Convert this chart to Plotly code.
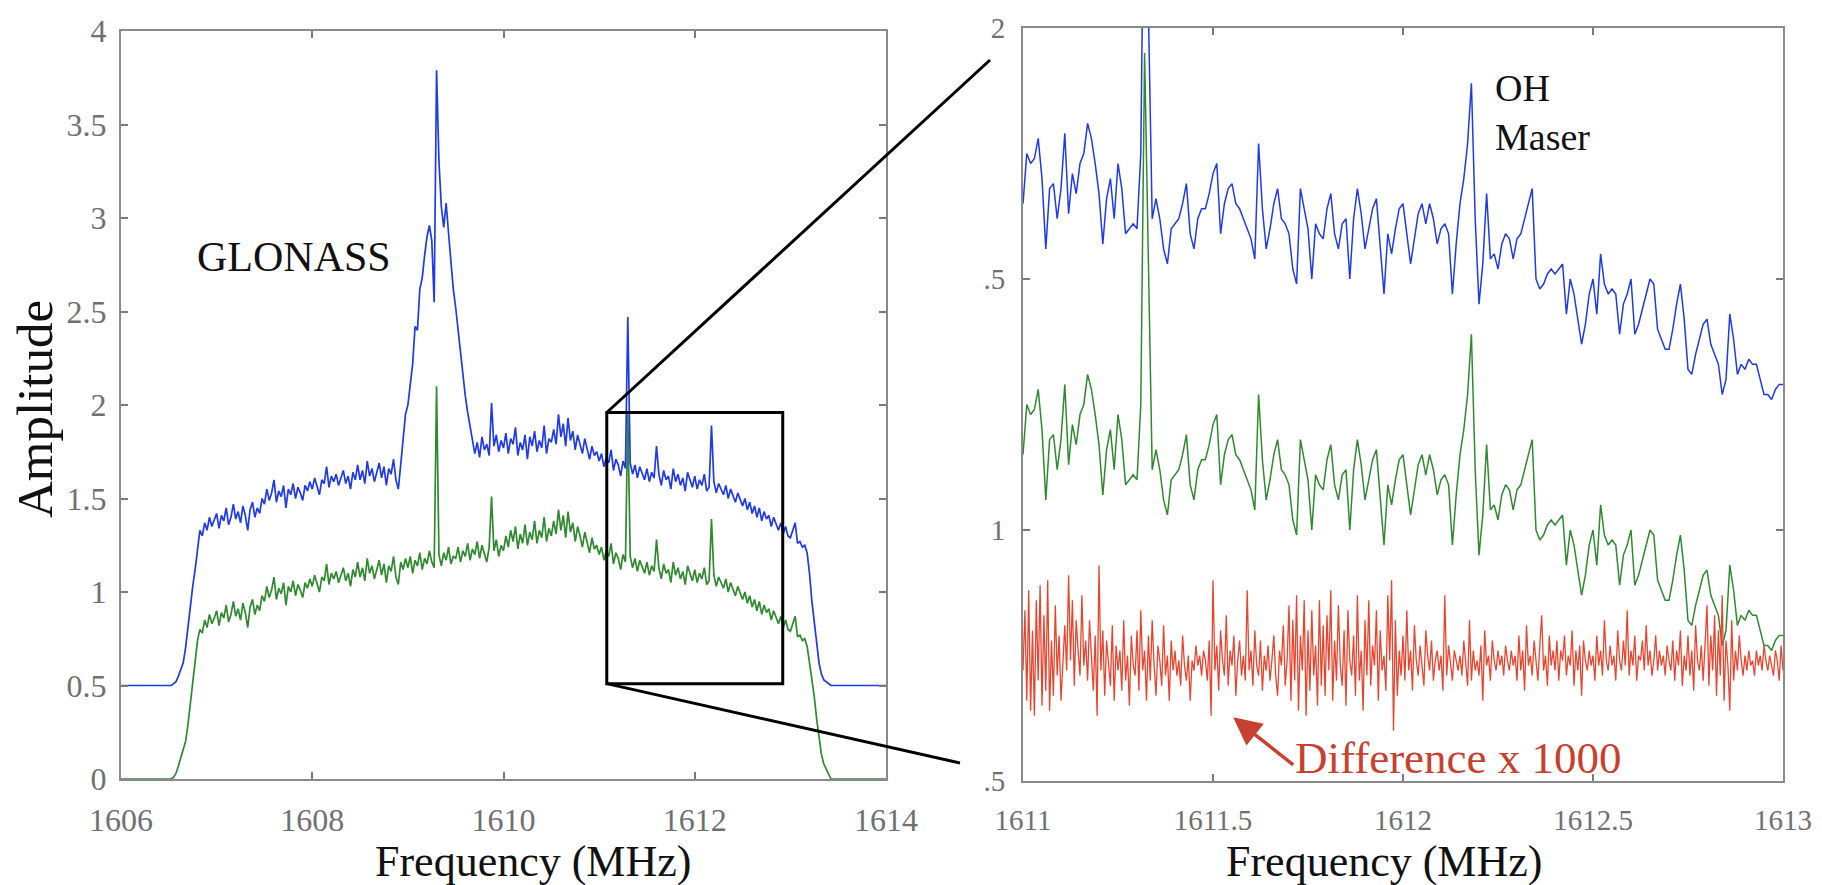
import plotly.graph_objects as go

# wide band spectrum, 1606-1614 MHz, 25 kHz channels
wide_start = 1606.0
wide_step = 0.025
wide_blue = [
    0.50, 0.50, 0.50, 0.50, 0.50, 0.50, 0.50, 0.50, 0.50, 0.50, 0.50, 0.50, 0.50, 0.50, 0.50, 0.50, 0.50, 0.50, 0.50, 0.50,
    0.50, 0.50, 0.51, 0.52, 0.55, 0.58, 0.62, 0.70, 0.82, 0.92, 1.03, 1.12, 1.24, 1.33, 1.30, 1.37, 1.33, 1.40, 1.35, 1.38,
    1.42, 1.34, 1.41, 1.38, 1.45, 1.36, 1.40, 1.47, 1.39, 1.43, 1.37, 1.46, 1.41, 1.33, 1.44, 1.48, 1.40, 1.45, 1.42, 1.50,
    1.47, 1.55, 1.49, 1.53, 1.60, 1.48, 1.54, 1.51, 1.57, 1.45, 1.55, 1.52, 1.58, 1.50, 1.56, 1.53, 1.49, 1.57, 1.54, 1.59,
    1.55, 1.61, 1.57, 1.52, 1.60, 1.58, 1.67, 1.56, 1.62, 1.59, 1.63, 1.57, 1.61, 1.65, 1.58, 1.62, 1.55, 1.64, 1.60, 1.68,
    1.60, 1.65, 1.58, 1.70, 1.62, 1.66, 1.59, 1.64, 1.69, 1.61, 1.67, 1.57, 1.66, 1.63, 1.71, 1.60, 1.55, 1.68, 1.80, 1.95,
    2.00, 2.12, 2.22, 2.42, 2.40, 2.62, 2.68, 2.80, 2.90, 2.96, 2.88, 2.55, 3.79, 3.30, 3.06, 2.95, 3.08, 2.92, 2.75, 2.62,
    2.52, 2.40, 2.26, 2.15, 2.05, 1.96, 1.88, 1.82, 1.74, 1.80, 1.72, 1.83, 1.76, 1.79, 1.73, 2.01, 1.78, 1.84, 1.75, 1.81,
    1.77, 1.85, 1.74, 1.82, 1.79, 1.88, 1.73, 1.80, 1.76, 1.84, 1.71, 1.83, 1.78, 1.86, 1.75, 1.81, 1.77, 1.89, 1.74, 1.82,
    1.80, 1.87, 1.79, 1.95, 1.83, 1.90, 1.78, 1.93, 1.81, 1.86, 1.76, 1.84, 1.79, 1.74, 1.82, 1.76, 1.71, 1.78, 1.73, 1.75,
    1.70, 1.74, 1.67, 1.72, 1.69, 1.76, 1.65, 1.71, 1.68, 1.62, 1.70, 1.66, 2.47, 1.69, 1.63, 1.68, 1.61, 1.67, 1.64, 1.60,
    1.66, 1.59, 1.64, 1.61, 1.78, 1.63, 1.57, 1.65, 1.60, 1.62, 1.55, 1.66, 1.59, 1.63, 1.57, 1.61, 1.54, 1.64, 1.60, 1.56,
    1.62, 1.55, 1.60, 1.57, 1.63, 1.54, 1.56, 1.89, 1.59, 1.53, 1.58, 1.55, 1.52, 1.57, 1.50, 1.55, 1.51, 1.48, 1.53, 1.49,
    1.46, 1.50, 1.44, 1.48, 1.42, 1.46, 1.40, 1.45, 1.38, 1.43, 1.39, 1.41, 1.35, 1.40, 1.36, 1.33, 1.37, 1.31, 1.35, 1.30,
    1.29, 1.33, 1.37, 1.26, 1.27, 1.24, 1.25, 1.21, 1.10, 0.95, 0.83, 0.71, 0.62, 0.56, 0.53, 0.52, 0.51, 0.50, 0.50, 0.50,
    0.50, 0.50, 0.50, 0.50, 0.50, 0.50, 0.50, 0.50, 0.50, 0.50, 0.50, 0.50, 0.50, 0.50, 0.50, 0.50, 0.50, 0.50, 0.50, 0.50,
    0.50,
]
wide_green = [
    0.00, 0.00, 0.00, 0.00, 0.00, 0.00, 0.00, 0.00, 0.00, 0.00, 0.00, 0.00, 0.00, 0.00, 0.00, 0.00, 0.00, 0.00, 0.00, 0.00,
    0.00, 0.00, 0.01, 0.03, 0.07, 0.11, 0.15, 0.20, 0.29, 0.40, 0.53, 0.65, 0.74, 0.80, 0.78, 0.85, 0.81, 0.88, 0.83, 0.86,
    0.90, 0.82, 0.89, 0.86, 0.93, 0.84, 0.88, 0.95, 0.87, 0.91, 0.85, 0.94, 0.89, 0.81, 0.92, 0.96, 0.88, 0.93, 0.90, 0.98,
    0.95, 1.03, 0.97, 1.01, 1.08, 0.96, 1.02, 0.99, 1.05, 0.93, 1.03, 1.00, 1.06, 0.98, 1.04, 1.01, 0.97, 1.05, 1.02, 1.07,
    1.03, 1.09, 1.05, 1.00, 1.08, 1.06, 1.15, 1.04, 1.10, 1.07, 1.11, 1.05, 1.09, 1.13, 1.06, 1.10, 1.03, 1.12, 1.08, 1.16,
    1.08, 1.13, 1.06, 1.18, 1.10, 1.14, 1.07, 1.12, 1.17, 1.09, 1.15, 1.05, 1.14, 1.11, 1.19, 1.08, 1.04, 1.16, 1.12, 1.18,
    1.13, 1.19, 1.10, 1.17, 1.14, 1.21, 1.12, 1.18, 1.15, 1.22, 1.16, 1.13, 2.10, 1.20, 1.14, 1.21, 1.17, 1.24, 1.15, 1.19,
    1.18, 1.24, 1.16, 1.22, 1.19, 1.26, 1.17, 1.23, 1.20, 1.27, 1.18, 1.25, 1.21, 1.16, 1.24, 1.51, 1.22, 1.28, 1.19, 1.25,
    1.22, 1.30, 1.24, 1.33, 1.27, 1.35, 1.23, 1.31, 1.26, 1.36, 1.25, 1.32, 1.28, 1.38, 1.26, 1.33, 1.29, 1.40, 1.27, 1.34,
    1.30, 1.38, 1.31, 1.44, 1.33, 1.41, 1.29, 1.43, 1.32, 1.37, 1.27, 1.35, 1.30, 1.24, 1.32, 1.26, 1.21, 1.29, 1.23, 1.25,
    1.20, 1.24, 1.17, 1.22, 1.19, 1.26, 1.15, 1.21, 1.18, 1.12, 1.20, 1.16, 1.95, 1.19, 1.13, 1.18, 1.11, 1.17, 1.14, 1.10,
    1.16, 1.09, 1.14, 1.11, 1.28, 1.13, 1.07, 1.15, 1.10, 1.12, 1.05, 1.16, 1.09, 1.13, 1.07, 1.11, 1.04, 1.14, 1.10, 1.06,
    1.12, 1.05, 1.10, 1.07, 1.13, 1.04, 1.06, 1.39, 1.09, 1.03, 1.08, 1.05, 1.02, 1.07, 1.00, 1.05, 1.01, 0.98, 1.03, 0.99,
    0.96, 1.00, 0.94, 0.98, 0.92, 0.96, 0.90, 0.95, 0.88, 0.93, 0.89, 0.91, 0.85, 0.90, 0.86, 0.83, 0.87, 0.81, 0.85, 0.80,
    0.79, 0.83, 0.87, 0.76, 0.77, 0.74, 0.75, 0.71, 0.62, 0.52, 0.44, 0.32, 0.21, 0.13, 0.08, 0.05, 0.02, 0.00, 0.00, 0.00,
    0.00, 0.00, 0.00, 0.00, 0.00, 0.00, 0.00, 0.00, 0.00, 0.00, 0.00, 0.00, 0.00, 0.00, 0.00, 0.00, 0.00, 0.00, 0.00, 0.00,
    0.00,
]

# zoomed spectrum, 1611-1613 MHz, 10 kHz channels
zoom_start = 1611.0
zoom_step = 0.01
zoom_blue = [
    1.65, 1.75, 1.73, 1.74, 1.78, 1.70, 1.56, 1.68, 1.69, 1.62,
    1.68, 1.79, 1.63, 1.71, 1.67, 1.73, 1.75, 1.81, 1.78, 1.73,
    1.67, 1.57, 1.66, 1.70, 1.62, 1.73, 1.68, 1.59, 1.60, 1.61,
    1.60, 1.75, 2.45, 2.05, 1.62, 1.66, 1.62, 1.56, 1.53, 1.60,
    1.61, 1.62, 1.65, 1.69, 1.59, 1.56, 1.62, 1.64, 1.64, 1.67,
    1.71, 1.73, 1.59, 1.65, 1.68, 1.69, 1.65, 1.64, 1.62, 1.60,
    1.58, 1.54, 1.77, 1.64, 1.56, 1.60, 1.65, 1.68, 1.62, 1.61,
    1.59, 1.52, 1.49, 1.68, 1.64, 1.60, 1.50, 1.61, 1.59, 1.58,
    1.64, 1.67, 1.59, 1.56, 1.61, 1.62, 1.50, 1.62, 1.68, 1.63,
    1.56, 1.60, 1.64, 1.66, 1.56, 1.47, 1.59, 1.55, 1.60, 1.64,
    1.65, 1.59, 1.53, 1.58, 1.63, 1.65, 1.61, 1.65, 1.62, 1.57,
    1.60, 1.61, 1.59, 1.47, 1.57, 1.65, 1.70, 1.77, 1.89, 1.62,
    1.45, 1.53, 1.67, 1.54, 1.55, 1.52, 1.57, 1.59, 1.58, 1.54,
    1.58, 1.59, 1.62, 1.65, 1.68, 1.50, 1.48, 1.49, 1.51, 1.52,
    1.51, 1.52, 1.53, 1.43, 1.50, 1.47, 1.42, 1.37, 1.41, 1.47,
    1.50, 1.43, 1.55, 1.49, 1.47, 1.48, 1.47, 1.39, 1.45, 1.47,
    1.50, 1.39, 1.41, 1.44, 1.47, 1.50, 1.49, 1.40, 1.38, 1.36,
    1.36, 1.40, 1.45, 1.49, 1.42, 1.32, 1.31, 1.35, 1.38, 1.41,
    1.42, 1.37, 1.35, 1.33, 1.27, 1.30, 1.43, 1.38, 1.31, 1.33,
    1.32, 1.34, 1.33, 1.33, 1.30, 1.27, 1.27, 1.26, 1.28, 1.29,
    1.29,
]
zoom_green = [
    1.15, 1.25, 1.23, 1.24, 1.28, 1.20, 1.06, 1.18, 1.19, 1.12,
    1.18, 1.29, 1.13, 1.21, 1.17, 1.23, 1.25, 1.31, 1.28, 1.23,
    1.17, 1.07, 1.16, 1.20, 1.12, 1.23, 1.18, 1.09, 1.10, 1.11,
    1.10, 1.25, 1.95, 1.55, 1.12, 1.16, 1.12, 1.06, 1.03, 1.10,
    1.11, 1.12, 1.15, 1.19, 1.09, 1.06, 1.12, 1.14, 1.14, 1.17,
    1.21, 1.23, 1.09, 1.15, 1.18, 1.19, 1.15, 1.14, 1.12, 1.10,
    1.08, 1.04, 1.27, 1.14, 1.06, 1.10, 1.15, 1.18, 1.12, 1.11,
    1.09, 1.02, 0.99, 1.18, 1.14, 1.10, 1.00, 1.11, 1.09, 1.08,
    1.14, 1.17, 1.09, 1.06, 1.11, 1.12, 1.00, 1.12, 1.18, 1.13,
    1.06, 1.10, 1.14, 1.16, 1.06, 0.97, 1.09, 1.05, 1.10, 1.14,
    1.15, 1.09, 1.03, 1.08, 1.13, 1.15, 1.11, 1.15, 1.12, 1.07,
    1.10, 1.11, 1.09, 0.97, 1.07, 1.15, 1.20, 1.27, 1.39, 1.12,
    0.95, 1.03, 1.17, 1.04, 1.05, 1.02, 1.07, 1.09, 1.08, 1.04,
    1.08, 1.09, 1.12, 1.15, 1.18, 1.00, 0.98, 0.99, 1.01, 1.02,
    1.01, 1.02, 1.03, 0.93, 1.00, 0.97, 0.92, 0.87, 0.91, 0.97,
    1.00, 0.93, 1.05, 0.99, 0.97, 0.98, 0.97, 0.89, 0.95, 0.97,
    1.00, 0.89, 0.91, 0.94, 0.97, 1.00, 0.99, 0.90, 0.88, 0.86,
    0.86, 0.90, 0.95, 0.99, 0.92, 0.82, 0.81, 0.85, 0.88, 0.91,
    0.92, 0.87, 0.85, 0.83, 0.77, 0.80, 0.93, 0.88, 0.81, 0.83,
    0.82, 0.84, 0.83, 0.83, 0.80, 0.77, 0.77, 0.76, 0.78, 0.79,
    0.79,
]

# difference x 1000, 5 kHz channels
diff_step = 0.005
zoom_diff = [
    0.72, 0.84, 0.66, 0.88, 0.64, 0.80, 0.63, 0.86, 0.70, 0.89, 0.65, 0.83, 0.68, 0.90, 0.64, 0.78, 0.67, 0.85, 0.71, 0.79,
    0.66, 0.75, 0.81, 0.72, 0.91, 0.74, 0.86, 0.69, 0.82, 0.76, 0.71, 0.87, 0.73, 0.78, 0.70, 0.82, 0.75, 0.68, 0.79, 0.63,
    0.93, 0.72, 0.80, 0.67, 0.78, 0.74, 0.69, 0.81, 0.66, 0.77, 0.72, 0.76, 0.68, 0.82, 0.70, 0.75, 0.65, 0.79, 0.73, 0.71,
    0.80, 0.68, 0.84, 0.72, 0.76, 0.66, 0.79, 0.70, 0.82, 0.73, 0.67, 0.77, 0.74, 0.69, 0.81, 0.71, 0.75, 0.66, 0.78, 0.72,
    0.76, 0.71, 0.74, 0.69, 0.79, 0.73, 0.70, 0.75, 0.66, 0.74, 0.72, 0.77, 0.73, 0.75, 0.71, 0.76, 0.74, 0.70, 0.78, 0.63,
    0.90, 0.72, 0.77, 0.68, 0.80, 0.74, 0.71, 0.83, 0.69, 0.76, 0.73, 0.79, 0.67, 0.74, 0.78, 0.71, 0.75, 0.70, 0.88, 0.72,
    0.76, 0.69, 0.80, 0.73, 0.71, 0.78, 0.68, 0.75, 0.72, 0.77, 0.70, 0.74, 0.79, 0.71, 0.67, 0.76, 0.73, 0.81, 0.69, 0.74,
    0.85, 0.66, 0.82, 0.70, 0.87, 0.64, 0.79, 0.72, 0.86, 0.63, 0.80, 0.68, 0.84, 0.71, 0.77, 0.65, 0.86, 0.69, 0.81, 0.67,
    0.83, 0.72, 0.88, 0.66, 0.78, 0.70, 0.85, 0.73, 0.69, 0.80, 0.65, 0.84, 0.74, 0.71, 0.79, 0.67, 0.87, 0.70, 0.76, 0.64,
    0.82, 0.71, 0.86, 0.69, 0.77, 0.73, 0.84, 0.66, 0.80, 0.72, 0.75, 0.68, 0.87, 0.74, 0.90, 0.60, 0.82, 0.67, 0.76, 0.71,
    0.79, 0.70, 0.84, 0.72, 0.76, 0.68, 0.81, 0.74, 0.71, 0.77, 0.73, 0.69, 0.80, 0.75, 0.72, 0.78, 0.70, 0.74, 0.76, 0.72,
    0.75, 0.68, 0.87, 0.71, 0.77, 0.73, 0.70, 0.76, 0.74, 0.72, 0.75, 0.71, 0.78, 0.73, 0.69, 0.82, 0.70, 0.76, 0.72, 0.74,
    0.71, 0.77, 0.66, 0.80, 0.73, 0.75, 0.70, 0.78, 0.74, 0.72, 0.76, 0.73, 0.75, 0.71, 0.77, 0.74, 0.72, 0.76, 0.73, 0.75,
    0.70, 0.79, 0.72, 0.76, 0.68, 0.81, 0.73, 0.75, 0.71, 0.78, 0.74, 0.70, 0.77, 0.83, 0.72, 0.75, 0.69, 0.79, 0.73, 0.76,
    0.72, 0.78, 0.70, 0.76, 0.74, 0.79, 0.71, 0.75, 0.73, 0.80, 0.69, 0.76, 0.72, 0.77, 0.67, 0.78, 0.74, 0.72, 0.76, 0.73,
    0.75, 0.70, 0.79, 0.73, 0.76, 0.71, 0.82, 0.74, 0.72, 0.77, 0.73, 0.75, 0.70, 0.80, 0.74, 0.72, 0.78, 0.73, 0.84, 0.71,
    0.76, 0.73, 0.79, 0.70, 0.75, 0.74, 0.78, 0.72, 0.81, 0.73, 0.76, 0.71, 0.74, 0.79, 0.72, 0.76, 0.73, 0.75, 0.71, 0.77,
    0.74, 0.72, 0.78, 0.70, 0.76, 0.73, 0.80, 0.69, 0.75, 0.72, 0.79, 0.71, 0.76, 0.68, 0.81, 0.74, 0.72, 0.77, 0.70, 0.78,
    0.85, 0.69, 0.79, 0.72, 0.83, 0.67, 0.80, 0.71, 0.87, 0.66, 0.78, 0.73, 0.64, 0.82, 0.70, 0.76, 0.72, 0.79, 0.74, 0.71,
    0.75, 0.72, 0.76, 0.73, 0.74, 0.71, 0.76, 0.73, 0.75, 0.72, 0.77, 0.74, 0.72, 0.75, 0.73, 0.71, 0.76, 0.74, 0.70, 0.77,
    0.72,
]

wide_ticks = [1606, 1608, 1610, 1612, 1614]
amp_ticks = [0, 0.5, 1, 1.5, 2, 2.5, 3, 3.5, 4]
amp_labels = ["0", "0.5", "1", "1.5", "2", "2.5", "3", "3.5", "4"]
zoom_xticks = [1611, 1611.5, 1612, 1612.5, 1613]
zoom_xlabels = ["1611", "1611.5", "1612", "1612.5", "1613"]
zoom_yticks = [0.5, 1, 1.5, 2]
zoom_ylabels = [".5", "1", ".5", "2"]
# zoom box drawn on the wide plot
box_f = [1611.08, 1612.92]
box_a = [0.51, 1.96]

f_wide = [wide_start + wide_step * i for i in range(len(wide_blue))]
f_zoom = [zoom_start + zoom_step * i for i in range(len(zoom_blue))]
f_diff = [zoom_start + diff_step * i for i in range(len(zoom_diff))]

BLUE = "#1f3ae8"
GREEN = "#2f8a2f"
RED = "#e8452f"
SERIF = "Liberation Serif"
TICK_GREY = "#707070"
INK = "#111111"

# the page body keeps its default 8px margin, so size the figure to fit the window
W, H, PAD = 1814, 877, 8


def paper(px, py):
    # window pixel -> paper fraction
    return (px - PAD) / W, 1 - (py - PAD) / H


fig = go.Figure()
fig.add_trace(go.Scatter(x=f_wide, y=wide_green, mode="lines",
                         line=dict(color=GREEN, width=1.7), xaxis="x", yaxis="y"))
fig.add_trace(go.Scatter(x=f_wide, y=wide_blue, mode="lines",
                         line=dict(color=BLUE, width=1.7), xaxis="x", yaxis="y"))
fig.add_trace(go.Scatter(x=f_zoom, y=zoom_green, mode="lines",
                         line=dict(color=GREEN, width=1.5), xaxis="x2", yaxis="y2"))
fig.add_trace(go.Scatter(x=f_zoom, y=zoom_blue, mode="lines",
                         line=dict(color=BLUE, width=1.5), xaxis="x2", yaxis="y2"))
fig.add_trace(go.Scatter(x=f_diff, y=zoom_diff, mode="lines",
                         line=dict(color=RED, width=1.3), xaxis="x2", yaxis="y2"))

l_tl, l_br = paper(121, 31), paper(886, 779)
r_tl, r_br = paper(1023, 28), paper(1783, 781)
xd1 = [l_tl[0], l_br[0]]
yd1 = [l_br[1], l_tl[1]]
xd2 = [r_tl[0], r_br[0]]
yd2 = [r_br[1], r_tl[1]]


def axis_style(size):
    return dict(
        automargin=False,
        showline=True, mirror="ticks", linecolor="#8a8a8a", linewidth=2,
        ticks="inside", ticklen=7, tickwidth=1.5, tickcolor="#7a7a7a",
        showgrid=False, zeroline=False,
        tickfont=dict(family=SERIF, size=size, color=TICK_GREY),
    )


fig.update_layout(
    template="none",
    width=W, height=H,
    margin=dict(l=0, r=0, t=0, b=0, autoexpand=False),
    paper_bgcolor="white", plot_bgcolor="white",
    font=dict(family=SERIF),
    showlegend=False,
    xaxis=dict(axis_style(32), domain=xd1, anchor="y", range=[1606, 1614],
               tickvals=wide_ticks, ticklabelstandoff=12),
    yaxis=dict(axis_style(32), domain=yd1, anchor="x", range=[0, 4],
               tickvals=amp_ticks, ticktext=amp_labels, ticklabelstandoff=6),
    xaxis2=dict(axis_style(29), domain=xd2, anchor="y2", range=[1611, 1613],
                tickvals=zoom_xticks, ticktext=zoom_xlabels, ticklabelstandoff=12),
    yaxis2=dict(axis_style(29), domain=yd2, anchor="x2", range=[0.5, 2],
                tickvals=zoom_yticks, ticktext=zoom_ylabels, ticklabelstandoff=10),
)

# axis titles, placed where the reference has them
for (px, py), text, angle, size in [
    ((533, 861), "Frequency (MHz)", 0, 44),
    ((1384, 861), "Frequency (MHz)", 0, 44),
    ((35, 409), "Amplitude", -90, 51),
]:
    ax_, ay_ = paper(px, py)
    fig.add_annotation(x=ax_, y=ay_, xref="paper", yref="paper", text=text, showarrow=False,
                       textangle=angle, xanchor="center", yanchor="middle",
                       font=dict(family=SERIF, size=size, color=INK))


def wide_to_paper(f, a):
    px = xd1[0] + (f - 1606) / 8 * (xd1[1] - xd1[0])
    py = yd1[0] + a / 4 * (yd1[1] - yd1[0])
    return px, py


# zoom box and connector lines
fig.add_shape(type="rect", xref="x", yref="y", x0=box_f[0], x1=box_f[1], y0=box_a[0], y1=box_a[1],
              line=dict(color="black", width=3))
tl = wide_to_paper(box_f[0], box_a[1])
bl = wide_to_paper(box_f[0], box_a[0])
top_end = paper(990, 60)
bot_end = paper(960, 763)
fig.add_shape(type="line", xref="paper", yref="paper", x0=tl[0], y0=tl[1], x1=top_end[0], y1=top_end[1],
              line=dict(color="black", width=3))
fig.add_shape(type="line", xref="paper", yref="paper", x0=bl[0], y0=bl[1], x1=bot_end[0], y1=bot_end[1],
              line=dict(color="black", width=3))

fig.add_annotation(x=1606.77, y=2.79, xref="x", yref="y", text="GLONASS", showarrow=False,
                   xanchor="left", yanchor="middle", font=dict(family=SERIF, size=42, color=INK))
fig.add_annotation(x=1612.237, y=1.832, xref="x2", yref="y2", text="OH<br>Maser", showarrow=False,
                   xanchor="left", yanchor="middle", align="left",
                   font=dict(family=SERIF, size=38, color=INK))
fig.add_annotation(x=1611.71, y=0.546, xref="x2", yref="y2", text="Difference x 1000", showarrow=False,
                   xanchor="left", yanchor="middle", font=dict(family=SERIF, size=45, color="#c8402f"))
fig.add_annotation(x=1611.553, y=0.627, ax=1611.715, ay=0.53, xref="x2", yref="y2",
                   axref="x2", ayref="y2", text="", showarrow=True,
                   arrowhead=2, arrowsize=1.6, arrowwidth=3.5, arrowcolor="#c8402f")

fig.write_html("out.html")
